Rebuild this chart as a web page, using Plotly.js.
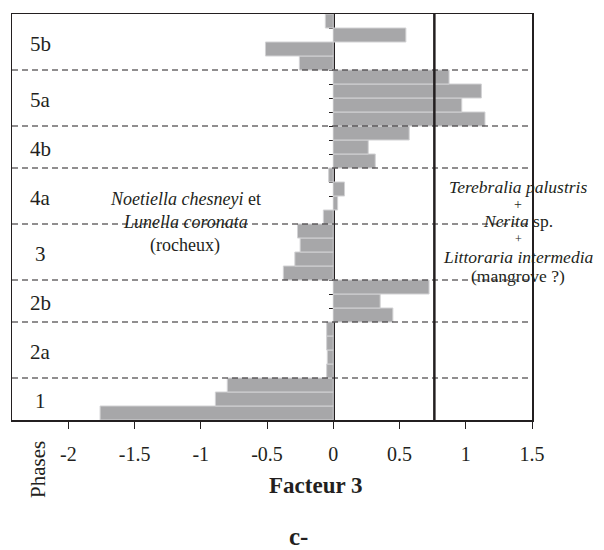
<!DOCTYPE html>
<html>
<head>
<meta charset="utf-8">
<script src="https://cdn.plot.ly/plotly-3.0.1.min.js"></script>
<style>html,body{margin:0;padding:0;background:#fff;}#chart{width:604px;height:550px;}</style>
</head>
<body>
<div id="chart"></div>
<script>
// Phases from bottom to top and number of samples in each
var phases = ['1', '2a', '2b', '3', '4a', '4b', '5a', '5b'];
var phaseCounts = [3, 4, 3, 4, 4, 3, 4, 4];
// Facteur 3 score of each sample, from bottom (phase 1) to top (phase 5b)
var facteur3 = [
  -1.76, -0.89, -0.80,          // 1
  -0.05, -0.045, -0.05, -0.05,  // 2a
  0.45, 0.354, 0.723,           // 2b
  -0.377, -0.29, -0.25, -0.27,  // 3
  -0.075, 0.033, 0.085, -0.035, // 4a
  0.317, 0.264, 0.573,          // 4b
  1.145, 0.97, 1.118, 0.874,    // 5a
  -0.256, -0.512, 0.548, -0.06  // 5b
];
var xTickVals = [-2, -1.5, -1, -0.5, 0, 0.5, 1, 1.5];
var xTickText = ['-2', '-1.5', '-1', '-0.5', '0', '0.5', '1', '1.5'];
var threshold = 0.763;
var xRange = [-2.425, 1.5];

var sampleIdx = facteur3.map(function (v, i) { return i; });
var nSamples = facteur3.length;
var yRange = [-0.5, nSamples - 0.5];

var serif = 'Liberation Serif, Times New Roman, serif';
var ink = '#231f20';

// phase boundaries
var bounds = [], centers = [], acc = 0;
phaseCounts.forEach(function (n) {
  centers.push(acc + (n - 1) / 2);
  acc += n;
  bounds.push(acc - 0.5);
});
var innerBounds = bounds.slice(0, bounds.length - 1);
var tickBounds = [];
for (var k = 0; k < nSamples - 1; k++) tickBounds.push(k + 0.5);

var shapes = innerBounds.map(function (b) {
  return {type: 'line', xref: 'paper', yref: 'y', x0: 0, x1: 1, y0: b, y1: b,
          line: {color: ink, width: 1.2, dash: '6px,4px'}};
});
shapes.push({type: 'line', xref: 'x', yref: 'paper', x0: threshold, x1: threshold, y0: 0, y1: 1,
             line: {color: ink, width: 2.5}});

function px(x) { return (x - 12) / 520; }
function py(y) { return (420 - y) / 406; }

var annotations = phases.map(function (p, i) {
  return {text: p, xref: 'paper', yref: 'y', x: px(40), y: centers[i], yshift: -2,
          showarrow: false, xanchor: 'center', yanchor: 'middle',
          font: {family: serif, size: 21, color: ink}};
});
function txt(t, x, y, size, extra) {
  var a = {text: t, xref: 'paper', yref: 'paper', x: px(x), y: py(y), showarrow: false,
           xanchor: 'center', yanchor: 'middle', borderpad: 0,
           font: {family: serif, size: size, color: ink}};
  if (extra) for (var k in extra) a[k] = extra[k];
  return a;
}
annotations.push(txt('<i>Noetiella chesneyi</i> et', 185, 199, 18));
annotations.push(txt('<i>Lunella coronata</i>', 185, 222, 18));
annotations.push(txt('(rocheux)', 185, 245, 18));
annotations.push(txt('<i>Terebralia palustris</i>', 518, 187, 17.5));
annotations.push(txt('+', 518, 204.5, 14));
annotations.push(txt('<i>Nerita</i> sp.', 518, 221, 17.5));
annotations.push(txt('+', 518, 239, 12));
annotations.push(txt('<i>Littoraria intermedia</i>', 518, 256.5, 17.5));
annotations.push(txt('(mangrove ?)', 518, 276, 17.5));
annotations.push(txt('Phases', 38, 470, 21, {textangle: -90}));
annotations.push(txt('<b>Facteur 3</b>', 315, 486, 23));
annotations.push(txt('<b>c-</b>', 298, 536, 25));

var traces = [
  {type: 'bar', orientation: 'h', x: facteur3, y: sampleIdx, width: 1,
   marker: {color: '#a7a7a9', line: {color: '#d2d2d4', width: 1}},
   hoverinfo: 'skip', showlegend: false},
  {type: 'scatter', x: [], y: [], xaxis: 'x', yaxis: 'y2', showlegend: false, hoverinfo: 'skip'}
];

var layout = {
  width: 604, height: 550,
  margin: {l: 12, r: 72, t: 14, b: 130},
  paper_bgcolor: '#fff', plot_bgcolor: '#fff',
  bargap: 0,
  showlegend: false,
  xaxis: {range: xRange, showline: true, mirror: true, linecolor: ink, linewidth: 1.5,
          ticks: 'outside', ticklen: 7, tickwidth: 1, tickcolor: ink,
          tickvals: xTickVals, ticktext: xTickText, ticklabelstandoff: 8,
          tickfont: {family: serif, size: 20, color: ink},
          showgrid: false, zeroline: false, fixedrange: true},
  yaxis: {range: yRange, showline: true, mirror: true, linecolor: ink, linewidth: 1.5,
          ticks: '', showticklabels: false, showgrid: false, zeroline: false, fixedrange: true},
  yaxis2: {range: yRange, overlaying: 'y', anchor: 'free', side: 'left',
           position: (0 - xRange[0]) / (xRange[1] - xRange[0]),
           showline: true, linecolor: ink, linewidth: 1.5, layer: 'below traces',
           ticks: 'outside', ticklen: 4, tickwidth: 1, tickcolor: ink,
           tickvals: tickBounds, showticklabels: false,
           showgrid: false, zeroline: false, fixedrange: true},
  shapes: shapes,
  annotations: annotations
};

Plotly.newPlot('chart', traces, layout, {displayModeBar: false, staticPlot: true});
</script>
</body>
</html>
